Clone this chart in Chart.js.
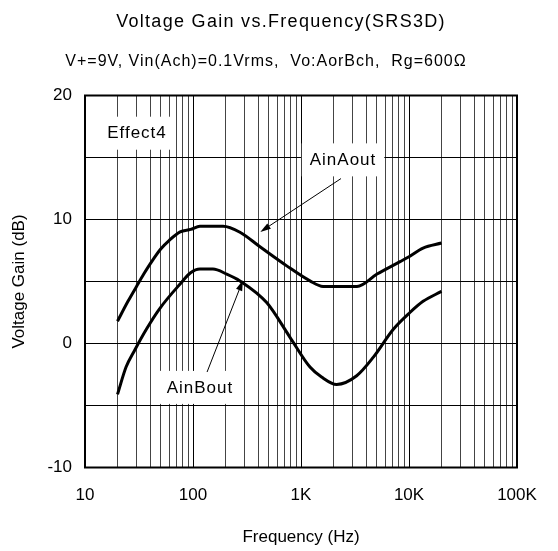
<!DOCTYPE html>
<html>
<head>
<meta charset="utf-8">
<script src="https://cdn.jsdelivr.net/npm/chart.js@4.4.1/dist/chart.umd.min.js"></script>
<style>
  html, body { margin: 0; padding: 0; background: #fff; }
  #wrap { width: 558px; height: 551px; }
</style>
</head>
<body>
<div id="wrap"><canvas id="gain-chart" width="558" height="551"></canvas></div>
<script>
const freqA = [20, 25, 30, 35, 40, 50, 60, 76, 95, 116, 150, 190, 272, 417, 738, 1211, 1600, 2500, 3300, 5060, 8260, 10000, 13500, 20000];
const gainA = [1.8, 3.4, 4.6, 5.6, 6.4, 7.6, 8.3, 9.0, 9.2, 9.45, 9.45, 9.45, 8.97, 7.8, 6.26, 5.05, 4.6, 4.6, 4.6, 5.6, 6.6, 7.0, 7.7, 8.1];
const freqB = [20, 24, 29, 37, 49, 76, 95, 116, 153, 205, 272, 481, 791, 1211, 1550, 2140, 3280, 4680, 7160, 10200, 13500, 20000];
const gainB = [-4.1, -1.9, -0.5, 1.15, 2.8, 4.8, 5.7, 6.0, 6.0, 5.6, 5.05, 3.3, 0.5, -1.9, -2.7, -3.3, -2.6, -1.1, 1.15, 2.5, 3.4, 4.2];

const xTicks = [10, 20, 30, 40, 50, 60, 70, 80, 90,
  100, 200, 300, 400, 500, 600, 700, 800, 900,
  1000, 2000, 3000, 4000, 5000, 6000, 7000, 8000, 9000,
  10000, 20000, 30000, 40000, 50000, 60000, 70000, 80000, 90000, 100000];
const xLabels = { 10: '10', 100: '100', 1000: '1K', 10000: '10K', 100000: '100K' };

const titleText = 'Voltage Gain vs.Frequency(SRS3D)';
const subtitleText = 'V+=9V, Vin(Ach)=0.1Vrms,  Vo:AorBch,  Rg=600\u03A9';

// label boxes and arrows, in data units (Hz, dB)
const notes = [
  { text: 'Effect4', x: 30.3, y: 17.0 },
  { text: 'AinAout', x: 2450, y: 14.85 },
  { text: 'AinBout', x: 116, y: -3.5 },
];
const arrows = [
  { from: [2345, 13.3], to: [420, 9.0] },
  { from: [135, -2.3], to: [290, 5.1] },
];

const FONT = "Arial, 'Liberation Sans', sans-serif";

const decorPlugin = {
  id: 'decor',
  beforeDatasetsDraw(chart) {
    const { ctx, chartArea: a, scales: { x, y } } = chart;
    ctx.save();
    // frame
    ctx.strokeStyle = '#000';
    ctx.lineWidth = 2;
    ctx.strokeRect(a.left, a.top, a.right - a.left, a.bottom - a.top);
    // label boxes
    ctx.font = '17px ' + FONT;
    ctx.letterSpacing = '1px';
    ctx.textAlign = 'center';
    ctx.textBaseline = 'middle';
    notes.forEach(n => {
      const px = x.getPixelForValue(n.x);
      const py = y.getPixelForValue(n.y);
      const w = ctx.measureText(n.text).width + 16;
      ctx.fillStyle = '#fff';
      ctx.fillRect(px - w / 2, py - 16, w, 33);
      ctx.fillStyle = '#000';
      ctx.fillText(n.text, px, py + 1);
    });
    ctx.restore();
  },
  afterDatasetsDraw(chart) {
    const { ctx, scales: { x, y } } = chart;
    ctx.save();
    ctx.strokeStyle = '#000';
    ctx.fillStyle = '#000';
    ctx.lineWidth = 1;
    arrows.forEach(ar => {
      const x0 = x.getPixelForValue(ar.from[0]), y0 = y.getPixelForValue(ar.from[1]);
      const x1 = x.getPixelForValue(ar.to[0]), y1 = y.getPixelForValue(ar.to[1]);
      const ang = Math.atan2(y1 - y0, x1 - x0);
      const len = 11, half = 0.3;
      ctx.beginPath();
      ctx.moveTo(x0, y0);
      ctx.lineTo(x1 - Math.cos(ang) * len * 0.8, y1 - Math.sin(ang) * len * 0.8);
      ctx.stroke();
      ctx.beginPath();
      ctx.moveTo(x1, y1);
      ctx.lineTo(x1 - len * Math.cos(ang - half), y1 - len * Math.sin(ang - half));
      ctx.lineTo(x1 - len * Math.cos(ang + half), y1 - len * Math.sin(ang + half));
      ctx.closePath();
      ctx.fill();
    });
    // titles
    ctx.textAlign = 'center';
    ctx.textBaseline = 'middle';
    ctx.font = '18px ' + FONT;
    ctx.letterSpacing = '1.3px';
    ctx.fillText(titleText, 281, 22);
    ctx.font = '16px ' + FONT;
    ctx.letterSpacing = '1px';
    ctx.fillText(subtitleText, 266, 62);
    ctx.restore();
  }
};

new Chart(document.getElementById('gain-chart'), {
  type: 'line',
  data: {
    datasets: [
      {
        label: 'AinAout',
        data: freqA.map((f, i) => ({ x: f, y: gainA[i] })),
        borderColor: '#000',
        borderWidth: 3,
        pointRadius: 0,
        cubicInterpolationMode: 'monotone',
        fill: false,
      },
      {
        label: 'AinBout',
        data: freqB.map((f, i) => ({ x: f, y: gainB[i] })),
        borderColor: '#000',
        borderWidth: 3,
        pointRadius: 0,
        cubicInterpolationMode: 'monotone',
        fill: false,
      }
    ]
  },
  options: {
    responsive: false,
    animation: false,
    layout: { padding: { top: 95.5, right: 41, left: 0, bottom: 0 } },
    plugins: {
      legend: { display: false },
      tooltip: { enabled: false },
    },
    scales: {
      x: {
        type: 'logarithmic',
        min: 10,
        max: 100000,
        afterBuildTicks: (scale) => { scale.ticks = xTicks.map(v => ({ value: v })); },
        afterFit: (scale) => { scale.height = 83.5; },
        grid: {
          drawTicks: false,
          color: (c) => (c.tick && xLabels[c.tick.value] ? '#000' : '#444'),
          lineWidth: 1,
        },
        border: { display: false },
        ticks: {
          autoSkip: false,
          maxRotation: 0,
          padding: 18,
          color: '#000',
          font: { family: FONT, size: 17 },
          callback: (v) => xLabels[v] || '',
        },
        title: {
          display: true,
          text: 'Frequency (Hz)',
          color: '#000',
          font: { family: FONT, size: 17 },
          padding: { top: 0, bottom: 3 },
        },
      },
      y: {
        min: -10,
        max: 20,
        afterFit: (scale) => { scale.width = 85; },
        grid: { drawTicks: false, color: '#000', lineWidth: 1 },
        border: { display: false },
        ticks: {
          stepSize: 5,
          padding: 13,
          color: '#000',
          font: { family: FONT, size: 17 },
          callback: (v) => (v % 10 === 0 ? String(v) : ''),
        },
        title: {
          display: true,
          text: 'Voltage Gain (dB)',
          color: '#000',
          font: { family: FONT, size: 17 },
          padding: { top: 9, bottom: 0 },
        },
      },
    },
  },
  plugins: [decorPlugin],
});
</script>
</body>
</html>
